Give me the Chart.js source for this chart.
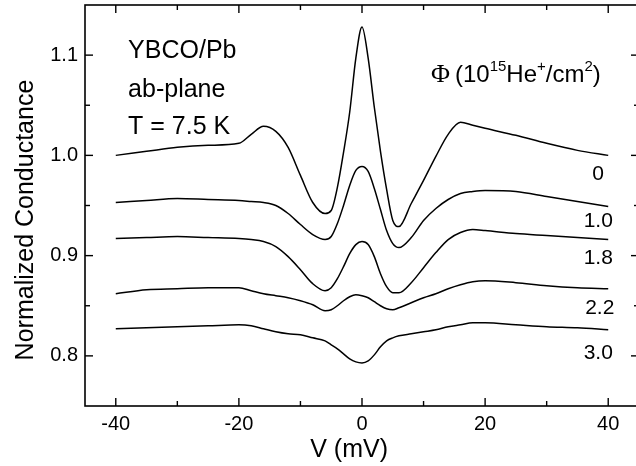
<!DOCTYPE html>
<html>
<head>
<meta charset="utf-8">
<script src="https://cdn.jsdelivr.net/npm/chart.js@4"></script>
<style>
  html, body { margin: 0; padding: 0; background: #fff; overflow: hidden; }
  #wrap { width: 636px; height: 466px; overflow: hidden; }
  #c { display: block; }
</style>
</head>
<body>
<div id="wrap"><canvas id="c" width="640" height="466"></canvas></div>
<script>
// ---- data ----
const voltage = [-40,-35,-30,-25,-20,-18,-16,-14,-12,-10,-8,-6,-5,-4,-3,-2,-1,0,1,2,3,4,5,6,8,10,12,14,16,18,20,25,30,35,40];

const g0  = [1.000,1.004,1.008,1.010,1.012,1.021,1.029,1.024,1.008,0.980,0.953,0.942,0.945,0.968,1.003,1.043,1.097,1.128,1.097,1.048,1.004,0.966,0.935,0.929,0.952,0.975,0.999,1.021,1.033,1.030,1.027,1.020,1.012,1.005,1.000];
const g10 = [0.953,0.955,0.957,0.956,0.955,0.954,0.953,0.950,0.942,0.931,0.921,0.916,0.919,0.932,0.950,0.970,0.985,0.989,0.984,0.967,0.946,0.925,0.912,0.908,0.918,0.935,0.947,0.956,0.962,0.964,0.965,0.964,0.959,0.954,0.949];
const g18 = [0.917,0.918,0.919,0.918,0.917,0.916,0.914,0.909,0.899,0.886,0.872,0.865,0.868,0.877,0.889,0.902,0.911,0.914,0.911,0.899,0.882,0.869,0.863,0.863,0.873,0.888,0.903,0.916,0.923,0.926,0.925,0.922,0.920,0.918,0.916];
const g22 = [0.862,0.866,0.867,0.868,0.868,0.865,0.862,0.860,0.858,0.855,0.851,0.845,0.846,0.850,0.855,0.859,0.861,0.860,0.858,0.854,0.850,0.847,0.846,0.848,0.853,0.858,0.862,0.867,0.871,0.874,0.875,0.873,0.870,0.868,0.867];
const g30 = [0.827,0.828,0.829,0.830,0.831,0.830,0.827,0.824,0.822,0.821,0.818,0.815,0.811,0.807,0.802,0.797,0.794,0.793,0.795,0.801,0.809,0.815,0.818,0.820,0.822,0.824,0.826,0.829,0.831,0.833,0.833,0.831,0.829,0.828,0.826];

const fluenceLabels = ['0','1.0','1.8','2.2','3.0'];

const xTickValues = [-40,-20,0,20,40];
const xTickLabels = ['-40','-20','0','20','40'];
const xMinorValues = [-30,-10,10,30];
const yTickValues = [0.8,0.9,1.0,1.1];
const yTickLabels = ['0.8','0.9','1.0','1.1'];
const yMinorValues = [0.85,0.95,1.05];

// ---- build datasets ----
const allSeries = [g0, g10, g18, g22, g30];
const datasets = allSeries.map((s, i) => ({
  label: fluenceLabels[i],
  data: voltage.map((v, k) => ({x: v, y: s[k]})),
  borderColor: '#000',
  borderWidth: 1.5,
  pointRadius: 0,
  fill: false,
  cubicInterpolationMode: 'monotone'
}));

// annotation positions (data coordinates)
const curveLabelX = [39.3, 40.75, 40.75, 41.0, 40.75];
const curveLabelY = [0.975, 0.9283, 0.892, 0.842, 0.797];

const SANS = '"Liberation Sans", Arial, Helvetica, sans-serif';
const SERIF = '"Liberation Serif", "Times New Roman", serif';

const framePlugin = {
  id: 'framePlugin',
  afterDraw(chart) {
    const {ctx, chartArea: a, scales: {x, y}} = chart;
    ctx.save();
    ctx.strokeStyle = '#000';
    ctx.lineWidth = 1.6;
    ctx.strokeRect(a.left, a.top, a.right - a.left, a.bottom - a.top);
    const seg = (x1, y1, x2, y2) => { ctx.beginPath(); ctx.moveTo(x1, y1); ctx.lineTo(x2, y2); ctx.stroke(); };
    ctx.lineWidth = 1.4;
    xTickValues.forEach(v => { const p = x.getPixelForValue(v); seg(p, a.bottom, p, a.bottom - 8); seg(p, a.top, p, a.top + 8); });
    xMinorValues.forEach(v => { const p = x.getPixelForValue(v); seg(p, a.bottom, p, a.bottom - 5); seg(p, a.top, p, a.top + 5); });
    yTickValues.forEach(v => { const p = y.getPixelForValue(v); seg(a.left, p, a.left + 8, p); seg(a.right, p, a.right - 8, p); });
    yMinorValues.forEach(v => { const p = y.getPixelForValue(v); seg(a.left, p, a.left + 5, p); seg(a.right, p, a.right - 5, p); });

    ctx.fillStyle = '#000';
    ctx.textBaseline = 'alphabetic';
    // left annotation block
    ctx.font = '25px ' + SANS;
    ctx.textAlign = 'left';
    const lx = x.getPixelForValue(-38);
    ctx.fillText('YBCO/Pb', lx, y.getPixelForValue(1.097));
    ctx.fillText('ab-plane', lx, y.getPixelForValue(1.0583));
    ctx.fillText('T = 7.5 K', lx, y.getPixelForValue(1.0217));

    // fluence header
    let px = x.getPixelForValue(11.2);
    const base = y.getPixelForValue(1.073);
    const sup = base - 11;
    const piece = (t, font, yy) => { ctx.font = font; ctx.fillText(t, px, yy); px += ctx.measureText(t).width; };
    piece('\u03A6', '26px ' + SERIF, base);
    px += 5;
    piece('(10', '24px ' + SANS, base);
    piece('15', '15px ' + SANS, sup);
    piece('He', '24px ' + SANS, base);
    piece('+', '15px ' + SANS, sup);
    piece('/cm', '24px ' + SANS, base);
    piece('2', '15px ' + SANS, sup);
    piece(')', '24px ' + SANS, base);

    // curve labels
    ctx.font = '21px ' + SANS;
    ctx.textAlign = 'right';
    fluenceLabels.forEach((t, i) => ctx.fillText(t, x.getPixelForValue(curveLabelX[i]), y.getPixelForValue(curveLabelY[i])));

    // axis titles
    ctx.textAlign = 'center';
    ctx.font = '25px ' + SANS;
    ctx.fillText('V (mV)', x.getPixelForValue(-2.1), a.bottom + 51);
    ctx.save();
    ctx.font = '25px ' + SANS;
    ctx.translate(33, y.getPixelForValue(0.9355));
    ctx.rotate(-Math.PI / 2);
    ctx.fillText('Normalized Conductance', 0, 0);
    ctx.restore();
    ctx.restore();
  }
};

new Chart(document.getElementById('c'), {
  type: 'line',
  data: { datasets },
  options: {
    responsive: false,
    animation: false,
    layout: { padding: { left: 0, right: 1, top: 5, bottom: 0 } },
    plugins: { legend: { display: false }, tooltip: { enabled: false } },
    scales: {
      x: {
        type: 'linear', min: -45, max: 45,
        grid: { display: false, drawTicks: false },
        border: { display: false },
        afterBuildTicks: s => { s.ticks = xTickValues.map(v => ({value: v})); },
        afterFit: s => { s.height = 60; s.paddingLeft = 0; s.paddingRight = 0; },
        ticks: {
          color: '#000', padding: 6,
          font: { family: SANS, size: 20 },
          callback: (v) => { const i = xTickValues.indexOf(v); return i >= 0 ? xTickLabels[i] : ''; }
        }
      },
      y: {
        type: 'linear', min: 0.75, max: 1.15,
        grid: { display: false, drawTicks: false },
        border: { display: false },
        afterBuildTicks: s => { s.ticks = yTickValues.map(v => ({value: v})); },
        afterFit: s => { s.width = 85; s.paddingTop = 0; s.paddingBottom = 0; },
        ticks: {
          color: '#000', padding: 7,
          font: { family: SANS, size: 20 },
          callback: (v) => { const i = yTickValues.findIndex(t => Math.abs(t - v) < 1e-9); return i >= 0 ? yTickLabels[i] : ''; }
        }
      }
    }
  },
  plugins: [framePlugin]
});
</script>
</body>
</html>
